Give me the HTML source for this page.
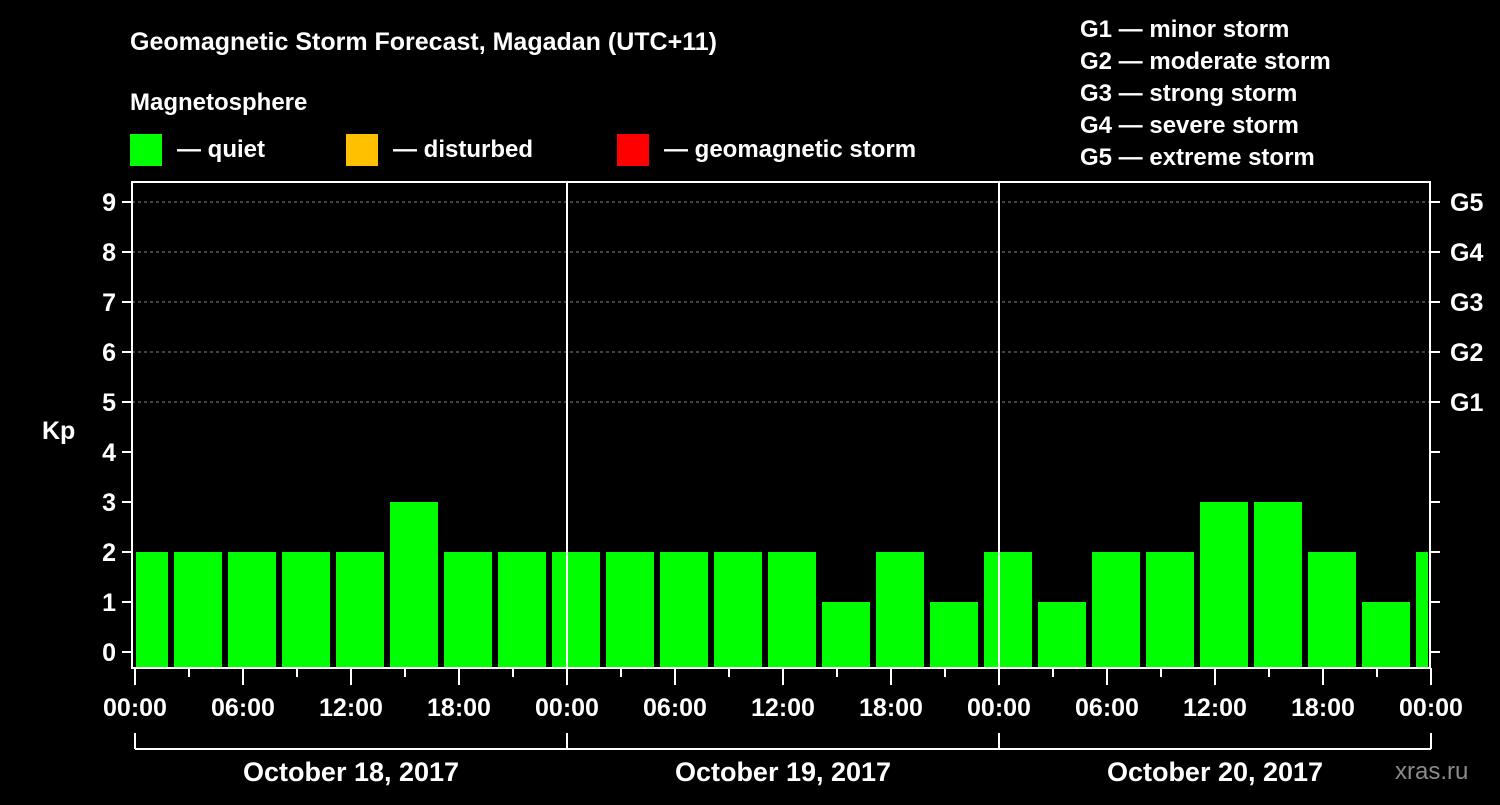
<!DOCTYPE html>
<html><head><meta charset="utf-8"><style>
body{margin:0;background:#000;}
svg text{font-family:"Liberation Sans",Arial,sans-serif;font-weight:bold;fill:#fff;}
</style></head><body>
<svg id="c" width="1500" height="800" xmlns="http://www.w3.org/2000/svg">
<rect width="1500" height="800" fill="#000"/>
<text x="130" y="50" font-size="25">Geomagnetic Storm Forecast, Magadan (UTC+11)</text>
<text x="130" y="110" font-size="24">Magnetosphere</text>
<g><rect x="130" y="134" width="32" height="32" fill="#00ff00"/><text x="177" y="157" font-size="24">— quiet</text></g>
<g><rect x="346" y="134" width="32" height="32" fill="#ffc000"/><text x="393" y="157" font-size="24">— disturbed</text></g>
<g><rect x="617" y="134" width="32" height="32" fill="#ff0000"/><text x="664" y="157" font-size="24">— geomagnetic storm</text></g>
<g font-size="24">
<text x="1080" y="37">G1 — minor storm</text><text x="1080" y="69">G2 — moderate storm</text><text x="1080" y="101">G3 — strong storm</text><text x="1080" y="133">G4 — severe storm</text><text x="1080" y="165">G5 — extreme storm</text></g>
<text x="42" y="439" font-size="25">Kp</text>
<text x="1395" y="779" font-size="24" fill="#888" style="fill:#8a8a8a;font-weight:normal">xras.ru</text>
<g id="plot"></g>
</svg>
<script>
const kpValues=[2,2,2,2,2,3,2,2,2,2,2,2,2,1,2,1,2,1,2,2,3,3,2,1,2];
const yTicks=[0,1,2,3,4,5,6,7,8,9];
const gLabels=["G1","G2","G3","G4","G5"];
const dayLabels=["October 18, 2017","October 19, 2017","October 20, 2017"];
const hourLabels=["00:00","06:00","12:00","18:00"];
const NS="http://www.w3.org/2000/svg";
const L=132,R=1430,T=182,B=668,X0=135,DAY=432;
const y=v=>652-50*v;
const xh=h=>X0+h*DAY/24;
const g=document.getElementById('plot');
function mk(t,a,p){const e=document.createElementNS(NS,t);for(const k in a)e.setAttribute(k,a[k]);(p||g).appendChild(e);return e;}
// bars: 3h slots starting at local 02:00 (offset -1 slot for first partial)
kpValues.forEach((v,i)=>{
 let x1=xh(-1+i*3)+3, x2=xh(2+i*3)-3;
 x1=Math.max(x1,L+4); x2=Math.min(x2,R-2);
 const r=mk('rect',{x:x1,y:y(v),width:x2-x1,height:B-y(v),fill:'#00ff00'});
 
 
});
// grid
yTicks.forEach(v=>{
 if(v>=5){const l=mk('line',{x1:L,x2:R,y1:y(v),y2:y(v),stroke:'#888','stroke-dasharray':'3,3'});}
 mk('line',{x1:L-10,x2:L,y1:y(v),y2:y(v),stroke:'#fff','stroke-width':2});
 mk('line',{x1:R,x2:R+10,y1:y(v),y2:y(v),stroke:'#fff','stroke-width':2});
 const t=mk('text',{x:L-16,y:y(v)+9,'font-size':25,'text-anchor':'end'});t.textContent=v;
 
});
gLabels.forEach((s,i)=>{const t=mk('text',{x:R+20,y:y(5+i)+9,'font-size':25});t.textContent=s;
 });
// frame
const f=mk('rect',{x:L,y:T,width:R-L,height:B-T,fill:'none',stroke:'#fff','stroke-width':2});

for(let d=1;d<3;d++)mk('line',{x1:xh(24*d),x2:xh(24*d),y1:T,y2:B,stroke:'#fff','stroke-width':2});
// x ticks
for(let h=0;h<=72;h+=3){const maj=h%6==0;mk('line',{x1:xh(h),x2:xh(h),y1:B,y2:B+(maj?17:9),stroke:'#fff','stroke-width':2});}
for(let h=0;h<=72;h+=6){const t=mk('text',{x:xh(h),y:716,'font-size':25,'text-anchor':'middle'});t.textContent=hourLabels[(h/6)%4];
 }
// day brackets
mk('line',{x1:xh(0),x2:xh(72),y1:749,y2:749,stroke:'#fff','stroke-width':2});
for(let d=0;d<=3;d++)mk('line',{x1:xh(24*d),x2:xh(24*d),y1:733,y2:749,stroke:'#fff','stroke-width':2});
dayLabels.forEach((s,i)=>{const t=mk('text',{x:xh(24*i+12),y:781,'font-size':27,'text-anchor':'middle'});t.textContent=s;
 });
</script>
</body></html>
